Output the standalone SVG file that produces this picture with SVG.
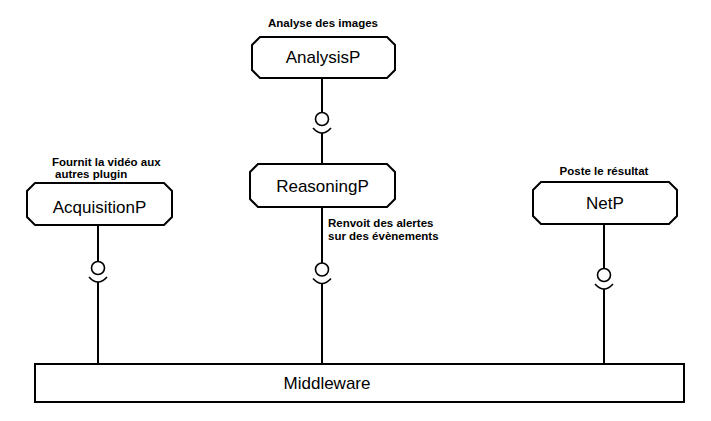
<svg xmlns="http://www.w3.org/2000/svg" width="711" height="421" viewBox="0 0 711 421">
<style>
.box{fill:#fff;stroke:#000;stroke-width:2}
.name{font-family:"Liberation Sans",Arial,sans-serif;font-size:17px;fill:#000;text-anchor:middle}
.lbl{font-family:"Liberation Sans",Arial,sans-serif;font-size:11.5px;font-weight:bold;fill:#000}
.ln{stroke:#000;stroke-width:2;fill:none}
.ball{fill:#fff;stroke:#000;stroke-width:1.6}
.cup{fill:none;stroke:#000;stroke-width:1.6}
</style>
<rect width="711" height="421" fill="#fff"/>
<g id="connectors">
<path class="ln" d="M322,78 V112.5 M322,133 V164"/>
<circle class="ball" cx="322" cy="119" r="6.5"/>
<path class="cup" d="M313,128 Q322,138 331,128"/>
<path class="ln" d="M322,207 V263 M322,283.5 V364"/>
<circle class="ball" cx="322" cy="269.5" r="6.5"/>
<path class="cup" d="M313,278.5 Q322,288.5 331,278.5"/>
<path class="ln" d="M98,225 V261.5 M98,282 V364"/>
<circle class="ball" cx="98" cy="268" r="6.5"/>
<path class="cup" d="M89,277 Q98,287 107,277"/>
<path class="ln" d="M604,224 V268.5 M604,289 V364"/>
<circle class="ball" cx="604" cy="275" r="6.5"/>
<path class="cup" d="M595,284 Q604,294 613,284"/>
</g>
<g id="AnalysisP">
<polygon class="box" points="260,37 387,37 395,45 395,70 387,78 260,78 252,70 252,45"/>
<text class="name" x="323" y="63">AnalysisP</text>
<text class="lbl" x="323" y="27" text-anchor="middle">Analyse des images</text>
</g>
<g id="ReasoningP">
<polygon class="box" points="258,164 387,164 395,172 395,199 387,207 258,207 250,199 250,172"/>
<text class="name" x="322.5" y="192">ReasoningP</text>
<text class="lbl" x="328" y="227">Renvoit des alertes</text>
<text class="lbl" x="328" y="240">sur des évènements</text>
</g>
<g id="AcquisitionP">
<polygon class="box" points="35,183 164,183 172,191 172,217 164,225 35,225 27,217 27,191"/>
<text class="name" x="99.5" y="213">AcquisitionP</text>
<text class="lbl" x="52" y="166">Fournit la vidéo aux</text>
<text class="lbl" x="55" y="178">autres plugin</text>
</g>
<g id="NetP">
<polygon class="box" points="541,182 669,182 677,190 677,216 669,224 541,224 533,216 533,190"/>
<text class="name" x="605" y="209">NetP</text>
<text class="lbl" x="604" y="175" text-anchor="middle">Poste le résultat</text>
</g>
<g id="Middleware">
<rect class="box" x="35" y="364" width="649" height="38"/>
<text class="name" x="327" y="389">Middleware</text>
</g>
</svg>
